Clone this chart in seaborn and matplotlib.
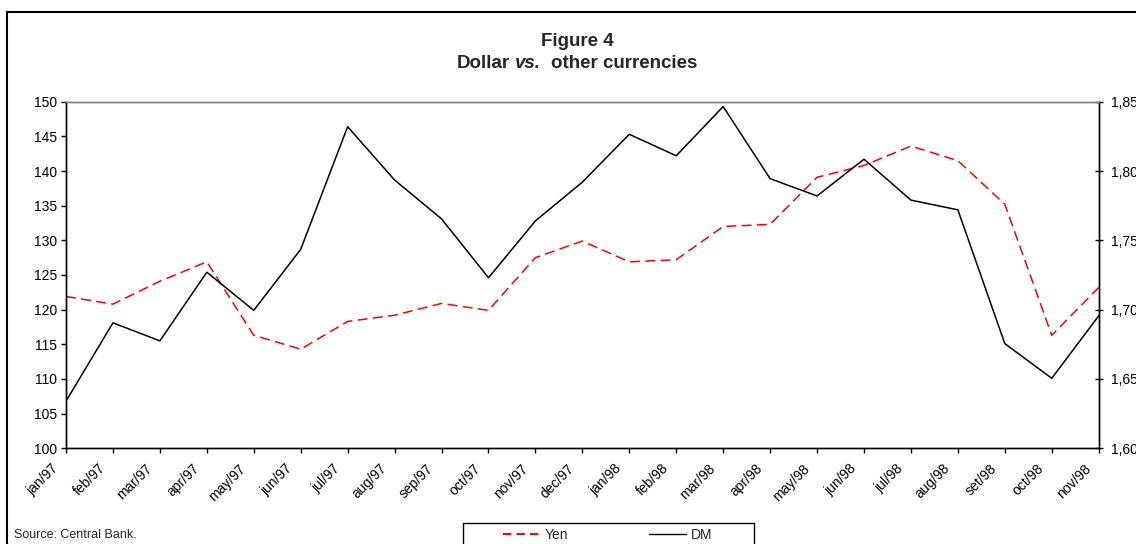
import matplotlib
matplotlib.use("Agg")
import matplotlib.pyplot as plt
import matplotlib.transforms as mtransforms
from matplotlib.patches import Rectangle
from matplotlib.lines import Line2D
from matplotlib.ticker import FuncFormatter, MultipleLocator
import seaborn as sns
import pandas as pd

# Monthly exchange rates, Jan/1997 - Nov/1998
months = ["jan/97", "feb/97", "mar/97", "apr/97", "may/97", "jun/97", "jul/97",
          "aug/97", "sep/97", "oct/97", "nov/97", "dec/97", "jan/98", "feb/98",
          "mar/98", "apr/98", "may/98", "jun/98", "jul/98", "aug/98", "set/98",
          "oct/98", "nov/98"]
yen = [121.9, 120.8, 124.1, 126.9, 116.3, 114.3, 118.3, 119.2, 120.9, 119.9,
       127.5, 129.9, 126.9, 127.2, 132.0, 132.3, 139.1, 140.8, 143.6, 141.5,
       135.2, 116.3, 123.2]
dm = [1.634, 1.6905, 1.6775, 1.727, 1.6995, 1.7435, 1.832, 1.7935, 1.7655,
      1.723, 1.764, 1.792, 1.8265, 1.811, 1.8465, 1.7945, 1.782, 1.8085,
      1.779, 1.772, 1.6755, 1.6505, 1.6955]

df = pd.DataFrame({"month": months, "Yen": yen, "DM": dm})

sns.set_style("ticks")
plt.rcParams["font.family"] = ["Liberation Sans", "DejaVu Sans"]

W, H = 1136, 544
fig = plt.figure(figsize=(W / 100, H / 100), dpi=100)
ax = fig.add_axes([66 / W, 1 - 448.3 / H, (1098.7 - 66) / W, (448.3 - 101.7) / H])
ax2 = ax.twinx()

sns.lineplot(data=df, x="month", y="Yen", ax=ax, color="#FF0000", lw=1.1,
             dashes=False, sort=False, legend=False)
ax.lines[0].set_dashes((6.5, 3.5))
sns.lineplot(data=df, x="month", y="DM", ax=ax2, color="black", lw=1.1,
             sort=False, legend=False)

ax.set_xlim(0, len(months) - 1)
ax.set_ylim(100, 150)
ax2.set_ylim(1.60, 1.85)
ax.yaxis.set_major_locator(MultipleLocator(5))
ax2.yaxis.set_major_locator(MultipleLocator(0.05))
ax2.yaxis.set_major_formatter(FuncFormatter(lambda v, p: f"{v:.2f}".replace(".", ",")))

for a in (ax, ax2):
    a.set_xlabel("")
    a.set_ylabel("")
    a.grid(False)
    for s in a.spines.values():
        s.set_linewidth(1.0)
        s.set_color("black")
ax.spines["top"].set_color("#808080")
ax2.spines["top"].set_color("#808080")

ax.tick_params(axis="y", direction="out", length=3.5, width=1.0, pad=3,
               labelsize=10, colors="black")
ax.tick_params(axis="x", direction="out", length=3.5, width=1.0, pad=9.5,
               labelsize=10, colors="black")
ax2.tick_params(axis="y", direction="inout", length=6, width=1.0, pad=6,
                labelsize=10, colors="black")

shift = mtransforms.ScaledTranslation(-0.10, 0, fig.dpi_scale_trans)
for lab in ax.get_xticklabels():
    lab.set_rotation(45)
    lab.set_ha("right")
    lab.set_va("center")
    lab.set_rotation_mode("anchor")
    lab.set_transform(lab.get_transform() + shift)

# Title: first line, then a second line built from bold and bold-italic runs
title_x = 577 / W
title_size = 13.5
fig.text(title_x, 1 - 46 / H, "Figure 4", ha="center", va="baseline",
         fontsize=title_size, fontweight="bold")

renderer = fig.canvas.get_renderer()


def text_width(s, style="normal"):
    t = fig.text(0, 0, s, fontsize=title_size, fontweight="bold", fontstyle=style)
    w = t.get_window_extent(renderer).width
    t.remove()
    return w


space_w = text_width("a a") - text_width("aa")
runs = [("Dollar", "normal", 1), ("vs.", "italic", 2), ("other currencies", "normal", 0)]
widths = [text_width(txt, style) for txt, style, _ in runs]
total = sum(w + n * space_w for w, (_, _, n) in zip(widths, runs))
x_px = title_x * W - total / 2
for w, (txt, style, n) in zip(widths, runs):
    fig.text(x_px / W, 1 - 68 / H, txt, ha="left", va="baseline",
             fontsize=title_size, fontweight="bold", fontstyle=style)
    x_px += w + n * space_w

# Source note
fig.text(14 / W, 1 - 535 / H, "Source: Central Bank.", ha="left", va="center",
         fontsize=9)

# Outer frame
fig.patches.append(Rectangle((7 / W, -0.05), 1.2, 1 - 12 / H + 0.05,
                             transform=fig.transFigure, fill=False,
                             edgecolor="black", lw=1.5))

# Legend box and entries
fig.patches.append(Rectangle((463 / W, -0.05), (754 - 463) / W, 1 - 523 / H + 0.05,
                             transform=fig.transFigure, fill=False,
                             edgecolor="black", lw=1.0))
handles = [Line2D([], [], color="#FF0000", lw=1.5, dashes=(4, 2.5)),
           Line2D([], [], color="black", lw=1.0)]
fig.legend(handles, ["Yen", "DM"], loc="center left",
           bbox_to_anchor=(503 / W, 1 - 535 / H), ncol=2, frameon=False,
           fontsize=10, handlelength=2.7, handletextpad=0.3,
           columnspacing=5.8, borderpad=0, borderaxespad=0)

fig.savefig("out.png", dpi=100)
